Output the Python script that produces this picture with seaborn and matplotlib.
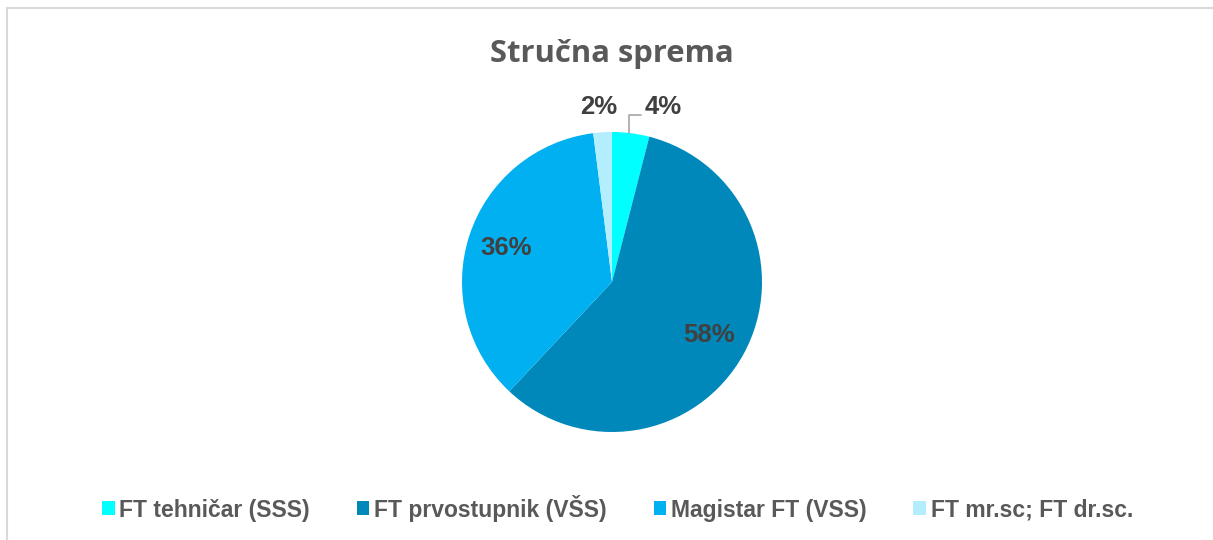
import matplotlib
matplotlib.use('Agg')
import matplotlib.pyplot as plt
import seaborn as sns
import numpy as np
from matplotlib.lines import Line2D
from matplotlib.patches import Patch

sns.set_theme(style='white')
plt.rcParams['font.family'] = ['Liberation Sans', 'DejaVu Sans']

# podaci
kategorije = ['FT tehničar (SSS)', 'FT prvostupnik (VŠS)', 'Magistar FT (VSS)', 'FT mr.sc; FT dr.sc.']
udjeli = [4, 58, 36, 2]
boje = ['#00FFFF', '#0088BA', '#00B0F0', '#B3EEFF']

fig = plt.figure(figsize=(12.13, 5.4), dpi=100)
ax = fig.add_axes([462 / 1213, 108 / 540, 300 / 1213, 300 / 540])

wedges, _ = ax.pie(udjeli, colors=boje, startangle=90, counterclock=False, radius=1,
                   wedgeprops={'linewidth': 0, 'edgecolor': 'none'})
ax.set_xlim(-1, 1)
ax.set_ylim(-1, 1)
ax.set_aspect('equal')
ax.axis('off')

# oznake postotaka
start = 90
for i, v in enumerate(udjeli):
    kut = np.deg2rad(start - v * 3.6 / 2)
    start -= v * 3.6
    txt = f'{v}%'
    if v >= 10:
        ax.text(0.74 * np.cos(kut), 0.74 * np.sin(kut), txt, ha='center', va='center',
                fontsize=18.5, fontweight='bold', color='#404040')
    elif i == 0:
        x0, y0 = np.cos(kut), np.sin(kut)
        ax.plot([x0 - 0.01, x0 - 0.01, x0 + 0.07], [y0, 1.11, 1.11], color='#A6A6A6', lw=1.2, clip_on=False)
        ax.text(0.34, 1.17, txt, ha='center', va='center', fontsize=18.5, fontweight='bold', color='#404040')
    else:
        ax.text(-0.09, 1.17, txt, ha='center', va='center', fontsize=18.5, fontweight='bold', color='#404040')

fig.text(612 / 1213, 1 - 54 / 540, 'Stručna sprema', ha='center', va='center', fontsize=22.3,
         fontweight='bold', color='#595959', family=['Open Sans', 'DejaVu Sans'])

ruke = [Patch(facecolor=c, edgecolor='none') for c in boje]
fig.legend(ruke, kategorije, loc='center', bbox_to_anchor=(0.509, 1 - 508 / 540), ncol=4, frameon=False,
           prop={'size': 16.5, 'weight': 'bold'}, labelcolor='#595959', handlelength=0.55, handleheight=0.55,
           handletextpad=0.2, columnspacing=2.05)

# okvir
fig.add_artist(Line2D([6.5 / 1213, 6.5 / 1213], [0, 1 - 7.5 / 540], color='#D9D9D9', lw=1.5))
fig.add_artist(Line2D([6.5 / 1213, 1], [1 - 7.5 / 540, 1 - 7.5 / 540], color='#D9D9D9', lw=1.5))

fig.savefig('out.png', dpi=100, facecolor='white')
